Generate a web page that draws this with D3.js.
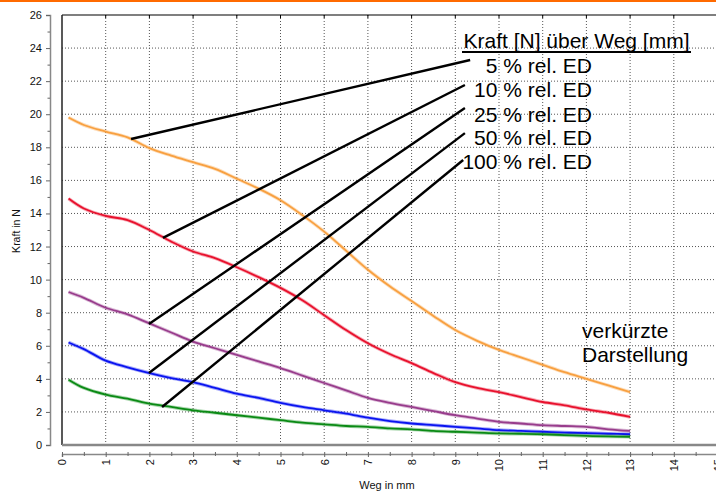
<!DOCTYPE html>
<html>
<head>
<meta charset="utf-8">
<script src="https://cdn.jsdelivr.net/npm/d3@7"></script>
<style>
  html, body { margin: 0; padding: 0; background: #fff; }
  svg { display: block; font-family: "Liberation Sans", Arial, sans-serif; }
</style>
</head>
<body>
<svg id="chart" width="716" height="492"></svg>
<script>
// ---- data ----
const weg = [0.15, 0.5, 1, 1.5, 2, 2.5, 3, 3.5, 4, 4.5, 5, 5.5, 6, 6.5, 7, 7.5, 8, 8.5, 9, 9.5, 10, 10.5, 11, 11.5, 12, 12.5, 13];
const kraft5   = [19.8, 19.35, 18.95, 18.6, 17.95, 17.5, 17.1, 16.7, 16.1, 15.5, 14.8, 13.9, 12.9, 11.75, 10.6, 9.6, 8.7, 7.8, 6.95, 6.3, 5.75, 5.3, 4.85, 4.4, 4.0, 3.6, 3.2];
const kraft10  = [14.9, 14.3, 13.85, 13.6, 13.0, 12.3, 11.7, 11.3, 10.75, 10.15, 9.5, 8.75, 7.85, 6.95, 6.15, 5.5, 4.95, 4.35, 3.8, 3.45, 3.2, 2.9, 2.6, 2.4, 2.15, 1.95, 1.7];
const kraft25  = [9.25, 8.9, 8.3, 7.9, 7.35, 6.8, 6.25, 5.85, 5.45, 5.05, 4.65, 4.2, 3.75, 3.3, 2.85, 2.55, 2.3, 2.05, 1.8, 1.6, 1.4, 1.3, 1.2, 1.15, 1.1, 0.95, 0.85];
const kraft50  = [6.2, 5.8, 5.1, 4.7, 4.35, 4.05, 3.8, 3.45, 3.1, 2.85, 2.55, 2.3, 2.1, 1.9, 1.65, 1.45, 1.3, 1.2, 1.1, 1.0, 0.9, 0.85, 0.8, 0.75, 0.72, 0.68, 0.65];
const kraft100 = [3.95, 3.45, 3.05, 2.8, 2.5, 2.3, 2.1, 1.95, 1.8, 1.65, 1.5, 1.35, 1.25, 1.15, 1.1, 1.0, 0.95, 0.85, 0.8, 0.75, 0.7, 0.68, 0.65, 0.6, 0.55, 0.52, 0.5];

const seriesNames = ["5 % rel. ED", "10 % rel. ED", "25 % rel. ED", "50 % rel. ED", "100 % rel. ED"];
const seriesColors = ["#f8a040", "#e8112d", "#983c8c", "#0a14f0", "#0a8a14"];
const seriesValues = [kraft5, kraft10, kraft25, kraft50, kraft100];

// leader lines: start on curve, end at label (data coordinates)
const leaderStartX = [1.58, 2.31, 1.99, 1.99, 2.29];
const leaderStartY = [18.5, 12.52, 7.32, 4.35, 2.30];
const leaderEndX   = [9.34, 9.22, 9.22, 9.22, 9.18];
const leaderEndY   = [23.28, 21.77, 20.37, 18.86, 17.23];

const xTicks = d3.range(0, 16, 1);
const yTicks = d3.range(0, 27, 2);

const titleText = "Kraft [N] über Weg [mm]";
const xLabel = "Weg in mm";
const yLabel = "Kraft in N";
const noteLines = ["verkürzte", "Darstellung"];

// ---- layout ----
const W = 716, H = 492;
const svg = d3.select("#chart");
const x = d3.scaleLinear().domain([0, 15]).range([62, 717.5]);
const y = d3.scaleLinear().domain([0, 26]).range([445, 15]);

// top orange rule
svg.append("rect").attr("x", 0).attr("y", 0).attr("width", W).attr("height", 2).attr("fill", "#ff6a00");

// gridlines
const grid = svg.append("g");
grid.selectAll("line.v").data(d3.range(1, 16)).join("line")
  .attr("x1", d => x(d)).attr("x2", d => x(d))
  .attr("y1", y(26)).attr("y2", y(0))
  .attr("stroke", "#555").attr("stroke-width", 1).attr("stroke-dasharray", "1,2");
grid.selectAll("line.h").data(d3.range(2, 26, 2)).join("line")
  .attr("x1", x(0)).attr("x2", W)
  .attr("y1", d => y(d)).attr("y2", d => y(d))
  .attr("stroke", "#555").attr("stroke-width", 1).attr("stroke-dasharray", "1,2");

// frame
svg.append("line").attr("x1", x(0)).attr("x2", W).attr("y1", y(26)).attr("y2", y(26))
  .attr("stroke", "#000").attr("stroke-width", 1.2);
svg.append("line").attr("x1", x(0)).attr("x2", x(0)).attr("y1", y(26)).attr("y2", y(0))
  .attr("stroke", "#222").attr("stroke-width", 1.5);
svg.append("line").attr("x1", x(0)).attr("x2", W).attr("y1", y(0)).attr("y2", y(0))
  .attr("stroke", "#888").attr("stroke-width", 2.5);
// ticks on top border
svg.append("g").selectAll("line").data(d3.range(1, 16)).join("line")
  .attr("x1", d => x(d)).attr("x2", d => x(d))
  .attr("y1", y(26)).attr("y2", y(26) + 3)
  .attr("stroke", "#000").attr("stroke-width", 1);

// y axis (separate)
const yAxis = d3.axisLeft(y).tickValues(yTicks).tickSize(4).tickPadding(4).tickFormat(d3.format("d"));
const gy = svg.append("g").attr("transform", "translate(50,0)").call(yAxis);
gy.select(".domain").attr("stroke", "#888").attr("stroke-width", 1.5);
gy.selectAll(".tick line").attr("stroke", "#666");
gy.selectAll("text").attr("font-size", 11).attr("fill", "#111").attr("font-family", "Liberation Sans, Arial, sans-serif");
const yMinor = d3.axisLeft(y).tickValues(d3.range(1, 26, 2)).tickSize(2.5).tickFormat("");
const gym = svg.append("g").attr("transform", "translate(50,0)").call(yMinor);
gym.select(".domain").remove();
gym.selectAll(".tick line").attr("stroke", "#666");

// x axis (separate)
const xAxis = d3.axisBottom(x).tickValues(xTicks).tickSize(3).tickFormat(d3.format("d"));
const gx = svg.append("g").attr("transform", "translate(0,454)").call(xAxis);
gx.select(".domain").attr("stroke", "#888").attr("stroke-width", 1.5);
gx.selectAll(".tick line").attr("stroke", "#666").attr("y1", -2);
gx.selectAll("text")
  .attr("font-size", 11).attr("fill", "#111").attr("font-family", "Liberation Sans, Arial, sans-serif")
  .attr("text-anchor", "end")
  .attr("transform", "rotate(-90)")
  .attr("x", -5).attr("y", 0).attr("dy", "0.35em");
const xMinor = d3.axisBottom(x).tickValues(d3.range(0.5, 15, 1)).tickSize(2).tickFormat("");
const gxm = svg.append("g").attr("transform", "translate(0,454)").call(xMinor);
gxm.select(".domain").remove();
gxm.selectAll(".tick line").attr("stroke", "#666").attr("y1", -2);

// axis labels
svg.append("text").attr("x", 387).attr("y", 489).attr("text-anchor", "middle")
  .attr("font-size", 11).attr("fill", "#111").text(xLabel);
svg.append("text").attr("transform", "translate(20,231) rotate(-90)").attr("text-anchor", "middle")
  .attr("font-size", 10.5).attr("fill", "#111").text(yLabel);

// curves
const line = d3.line().x(d => x(d[0])).y(d => y(d[1])).curve(d3.curveCatmullRom.alpha(0.5));
const curves = svg.append("g");
seriesValues.forEach((vals, i) => {
  const pts = weg.map((w, j) => [w, vals[j]]);
  curves.append("path").attr("d", line(pts)).attr("fill", "none")
    .attr("stroke", seriesColors[i]).attr("stroke-opacity", 0.35).attr("stroke-width", 3.6);
  curves.append("path").attr("d", line(pts)).attr("fill", "none")
    .attr("stroke", seriesColors[i]).attr("stroke-width", 1.8);
});

// leader lines
svg.append("g").selectAll("line").data(seriesNames).join("line")
  .attr("x1", (d, i) => x(leaderStartX[i])).attr("y1", (d, i) => y(leaderStartY[i]))
  .attr("x2", (d, i) => x(leaderEndX[i])).attr("y2", (d, i) => y(leaderEndY[i]))
  .attr("stroke", "#000").attr("stroke-width", 2.4);

// title block
svg.append("text").attr("x", 576.5).attr("y", 48).attr("text-anchor", "middle")
  .attr("font-size", 21).attr("fill", "#000").text(titleText);
svg.append("line").attr("x1", 462).attr("x2", 691).attr("y1", 52).attr("y2", 52)
  .attr("stroke", "#000").attr("stroke-width", 1.8);
const labelBase = [73, 97, 122, 145, 169];
svg.append("g").selectAll("text").data(seriesNames).join("text")
  .attr("x", 592).attr("y", (d, i) => labelBase[i]).attr("text-anchor", "end")
  .attr("font-size", 21).attr("fill", "#000").text(d => d);

// note
svg.append("g").selectAll("text").data(noteLines).join("text")
  .attr("x", 582).attr("y", (d, i) => 338 + i * 24)
  .attr("font-size", 21).attr("fill", "#000").text(d => d);
</script>
</body>
</html>
